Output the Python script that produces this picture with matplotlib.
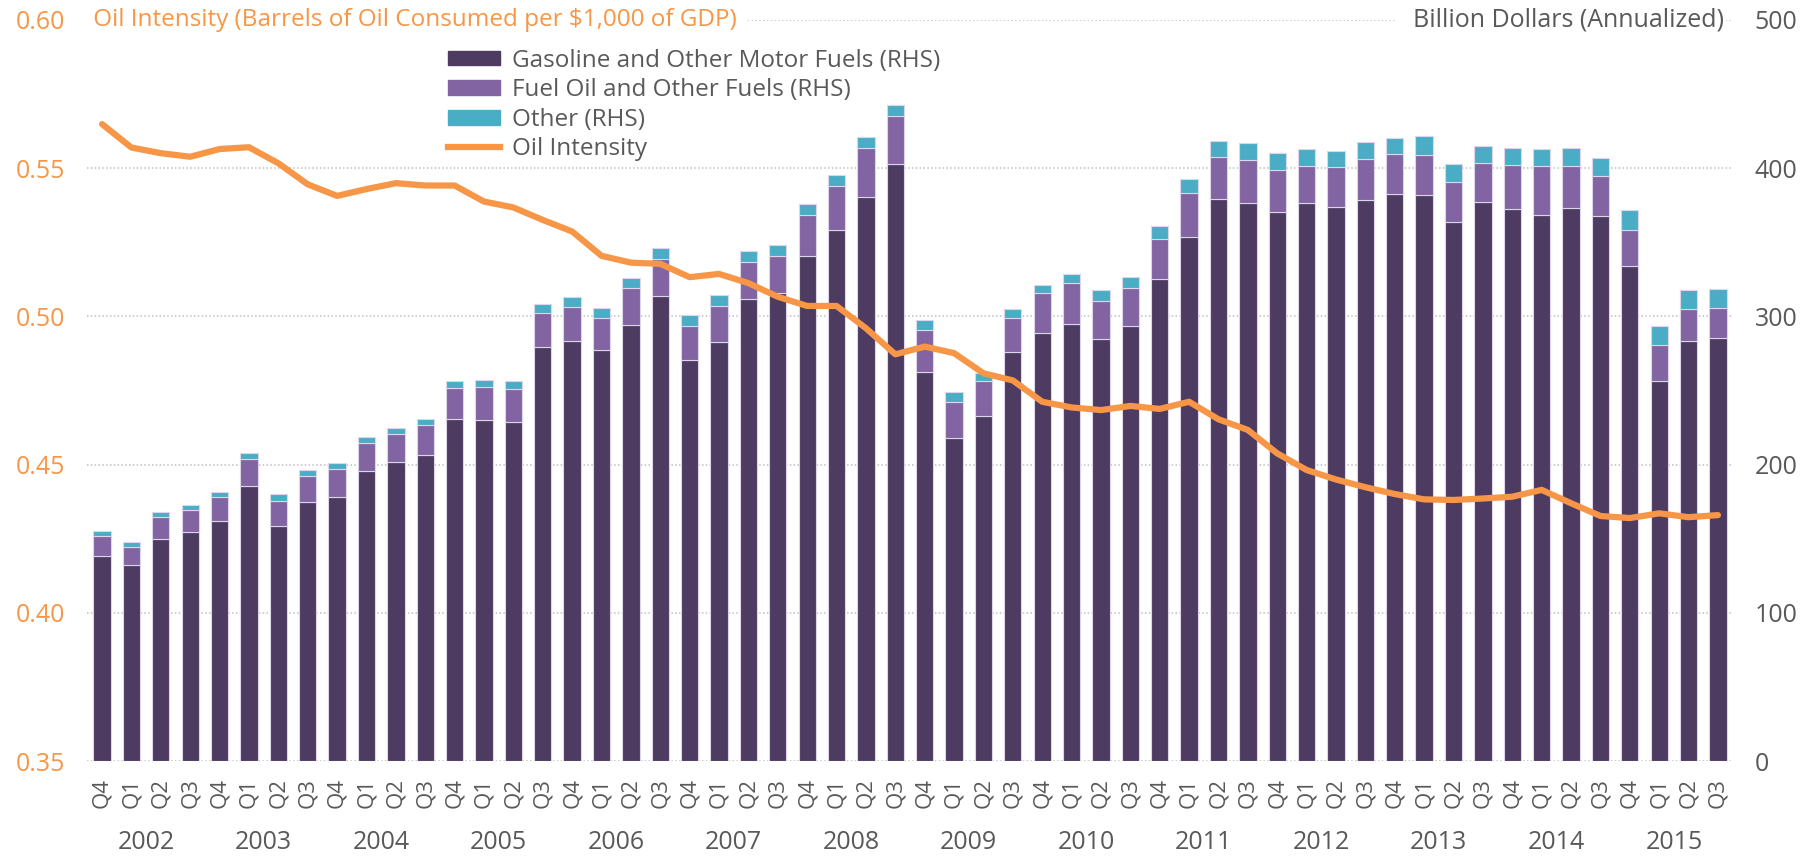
import matplotlib
matplotlib.use("Agg")
import matplotlib.pyplot as plt
from matplotlib.patches import Patch
from matplotlib.lines import Line2D
import numpy as np

plt.rcParams['font.family'] = ['Open Sans', 'DejaVu Sans']

# quarters Q4 2001 .. Q3 2015
quarters = ['Q4'] + ['Q1', 'Q2', 'Q3', 'Q4'] * 13 + ['Q1', 'Q2', 'Q3']
years = [str(y) for y in range(2002, 2016)]

# billion dollars, annualized
gasoline = [138.5, 132.2, 149.9, 154.8, 162.0, 185.8, 158.9, 174.8, 178.4, 196.0,
            202.0, 206.5, 230.8, 230.1, 229.0, 279.6, 283.6, 277.5, 294.2, 313.6,
            270.4, 282.9, 311.9, 315.6, 340.5, 358.5, 380.7, 402.6, 262.7, 218.2,
            233.0, 275.8, 289.0, 294.9, 285.0, 293.5, 325.0, 353.7, 379.0, 376.5,
            370.6, 376.5, 374.0, 378.3, 382.7, 381.9, 363.7, 377.3, 372.2, 368.2,
            372.9, 367.9, 334.0, 256.6, 283.6, 285.6]
fuel_oil = [13.6, 12.5, 14.6, 14.9, 16.0, 18.2, 16.8, 17.8, 18.5, 18.4,
            18.5, 20.3, 21.1, 22.1, 21.8, 22.9, 23.0, 21.6, 25.2, 25.1,
            23.3, 24.3, 25.0, 25.1, 28.1, 29.6, 33.1, 32.7, 27.9, 24.3,
            23.4, 23.3, 26.6, 27.4, 25.6, 25.7, 27.4, 29.7, 28.7, 29.2,
            28.3, 25.1, 26.7, 28.0, 27.0, 27.1, 27.1, 26.1, 29.9, 33.2,
            28.5, 26.6, 24.5, 24.1, 21.4, 20.3]
other = [3.4, 3.4, 3.6, 3.3, 3.4, 3.7, 4.3, 4.0, 4.0, 4.1,
         4.0, 4.2, 4.5, 5.1, 5.4, 5.7, 6.3, 6.8, 6.5, 7.2,
         7.0, 7.2, 7.2, 7.2, 7.0, 7.2, 7.0, 7.2, 7.2, 6.7,
         5.6, 5.7, 5.6, 6.3, 7.0, 7.6, 8.4, 9.5, 10.6, 11.4,
         11.5, 11.3, 11.0, 11.1, 10.6, 12.4, 11.8, 11.5, 11.5, 11.7,
         12.2, 12.1, 13.0, 12.8, 12.6, 12.8]
# barrels of oil consumed per $1,000 of GDP
intensity = [0.5648, 0.5569, 0.5550, 0.5538, 0.5564, 0.5570, 0.5516, 0.5445, 0.5406, 0.5429,
             0.5449, 0.5441, 0.5441, 0.5387, 0.5367, 0.5325, 0.5286, 0.5204, 0.5181, 0.5177,
             0.5132, 0.5143, 0.5112, 0.5066, 0.5035, 0.5035, 0.4960, 0.4872, 0.4898, 0.4876,
             0.4808, 0.4784, 0.4712, 0.4693, 0.4684, 0.4698, 0.4688, 0.4712, 0.4653, 0.4617,
             0.4538, 0.4482, 0.4450, 0.4424, 0.4401, 0.4383, 0.4381, 0.4386, 0.4392, 0.4415,
             0.4370, 0.4327, 0.4320, 0.4336, 0.4323, 0.4330]

c_gas = '#4d3b62'
c_fuel = '#8264a2'
c_other = '#4bacc6'
c_line = '#f79646'
c_text = '#595959'
c_grid = '#bfbfbf'

x = np.arange(len(quarters))
gas = np.array(gasoline)
fuel = np.array(fuel_oil)
oth = np.array(other)

fig = plt.figure(figsize=(18.2, 8.56), dpi=100)
ax2 = fig.add_axes([0.048, 0.1106, 0.904, 0.8664])
ax = ax2.twinx()
ax.yaxis.tick_left()
ax2.yaxis.tick_right()
ax.set_zorder(ax2.get_zorder() + 1)
ax.patch.set_visible(False)

w = 0.59
ec = '#ddd6e8'
ax2.bar(x, gas, w, color=c_gas, edgecolor=ec, linewidth=0.8, zorder=3)
ax2.bar(x, fuel, w, bottom=gas, color=c_fuel, edgecolor=ec, linewidth=0.8, zorder=3)
ax2.bar(x, oth, w, bottom=gas + fuel, color=c_other, edgecolor=ec, linewidth=0.8, zorder=3)

ax.plot(x, intensity, color=c_line, lw=4.5, solid_joinstyle='round', solid_capstyle='round')

ax2.set_ylim(0, 500)
ax.set_ylim(0.35, 0.60)
ax2.set_xlim(-0.5, 55.5)

# dotted grid
for v in [0, 100, 200, 300, 400, 500]:
    ax2.axhline(v, color=c_grid, lw=1.1, ls=(0, (1, 1.5)), zorder=1)

for a in (ax, ax2):
    for s in a.spines.values():
        s.set_visible(False)

ax.set_yticks([0.35, 0.40, 0.45, 0.50, 0.55, 0.60])
ax.set_yticklabels(['0.35', '0.40', '0.45', '0.50', '0.55', '0.60'])
ax.tick_params(axis='y', length=0, pad=16, labelsize=18, labelcolor=c_line)
ax2.set_yticks([0, 100, 200, 300, 400, 500])
ax2.tick_params(axis='y', length=0, pad=16, labelsize=18, labelcolor=c_text)

ax2.set_xticks(x)
ax2.set_xticklabels(quarters, rotation=90)
ax2.tick_params(axis='x', length=0, pad=12, labelsize=16, labelcolor=c_text)

for k, yr in enumerate(years):
    ax2.text(4 * k + 1.5, -0.110, yr, transform=ax2.get_xaxis_transform(),
             ha='center', va='center', fontsize=18, color=c_text)

ax2.text(0.0, 500, ' Oil Intensity (Barrels of Oil Consumed per $1,000 of GDP) ',
         transform=ax2.get_yaxis_transform(), ha='left', va='center',
         fontsize=17.5, color=c_line, zorder=5,
         bbox=dict(facecolor='white', edgecolor='none', pad=2))
ax2.text(0.9945, 500, '  Billion Dollars (Annualized)',
         transform=ax2.get_yaxis_transform(), ha='right', va='center',
         fontsize=18, color=c_text, zorder=5,
         bbox=dict(facecolor='white', edgecolor='none', pad=2))

handles = [Patch(color=c_gas, label='Gasoline and Other Motor Fuels (RHS)'),
           Patch(color=c_fuel, label='Fuel Oil and Other Fuels (RHS)'),
           Patch(color=c_other, label='Other (RHS)'),
           Line2D([], [], color=c_line, lw=4.5, label='Oil Intensity')]
leg = ax.legend(handles=handles, loc='upper left', bbox_to_anchor=(0.219, 0.961),
                frameon=False, fontsize=17.5, labelcolor=c_text,
                handlelength=2.14, handleheight=0.56, handletextpad=0.5,
                labelspacing=0.23, borderaxespad=0, borderpad=0)

fig.savefig('out.png', dpi=100)
